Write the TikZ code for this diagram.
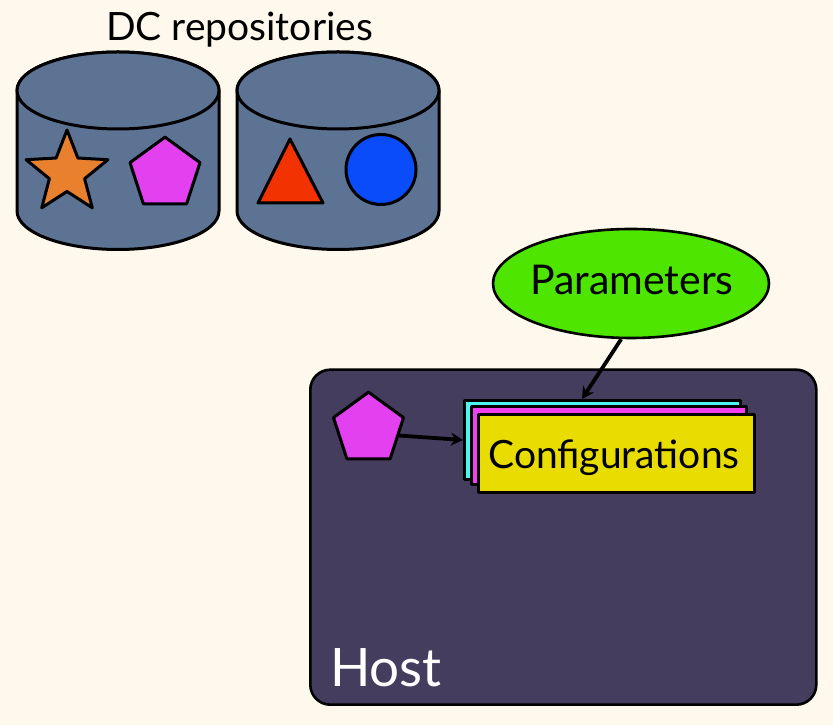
\documentclass[tikz,border=0pt]{standalone}
\usepackage{fontspec}
\setmainfont{Lato}
\usetikzlibrary{shapes.geometric,arrows.meta,calc}
\definecolor{bg}{HTML}{FEF9EC}
\definecolor{repoc}{HTML}{5D7393}
\definecolor{starc}{HTML}{E8802E}
\definecolor{pentc}{HTML}{E340F0}
\definecolor{tric}{HTML}{F23200}
\definecolor{circc}{HTML}{0A4BFA}
\definecolor{paramc}{HTML}{4EE600}
\definecolor{hostc}{HTML}{443D5E}
\definecolor{cyanc}{HTML}{4AF5F2}
\definecolor{magc}{HTML}{F040F0}
\definecolor{yelc}{HTML}{E8DC00}
\tikzset{
  repo/.style={fill=repoc, draw=black, line width=3pt},
  shapeline/.style={draw=black, line width=3pt},
  pent/.style={regular polygon, regular polygon sides=5, minimum size=73.6pt, inner sep=0pt, draw=black, line width=3pt, fill=pentc},
  cfg/.style={draw=black, line width=3pt, minimum height=78pt, minimum width=276pt, inner sep=0pt, anchor=south west},
  arr/.style={draw=black, line width=3.8pt, -{Stealth[length=12pt,width=13pt]}},
}
\begin{document}
\begin{tikzpicture}[x=1pt,y=1pt,line join=round]
\fill[bg] (0,0) rectangle (833,725);
\useasboundingbox (0,0) rectangle (833,725);

% title
\node[anchor=base, font=\fontsize{39}{44}\selectfont, inner sep=0pt] (title) at (239.5,684) {DC repositories};

% left cylinder
\draw[repo] (17,634.5) -- (17,514) arc[start angle=180,end angle=360,x radius=101,y radius=38.5] -- (219,634.5) arc[start angle=0,end angle=180,x radius=101,y radius=38.5] -- cycle;
\draw[repo] (118,634.5) ellipse[x radius=101, y radius=38.5];
% right cylinder
\draw[repo] (237,634.5) -- (237,514) arc[start angle=180,end angle=360,x radius=101,y radius=38.5] -- (439,634.5) arc[start angle=0,end angle=180,x radius=101,y radius=38.5] -- cycle;
\draw[repo] (338,634.5) ellipse[x radius=101, y radius=38.5];

% star
\draw[shapeline,fill=starc,shift={(67,552)}] (90:43) -- (126:18.5) -- (162:43) -- (198:18.5) -- (234:43) -- (270:18.5) -- (306:43) -- (342:18.5) -- (18:43) -- (54:18.5) -- cycle;
% pentagon in repo
\node[pent] (rpent) at (165,551) {};
% triangle
\draw[shapeline,fill=tric] (290,586) -- (258,522) -- (323,522) -- cycle;
% circle
\draw[shapeline,fill=circc] (381,555.5) circle[radius=35];

% host
\node[draw=black, line width=2.6pt, rounded corners=20pt, fill=hostc, minimum width=506pt, minimum height=335pt, inner sep=0pt, anchor=south west] (host) at (309,19) {};
\node[anchor=base west, inner sep=0pt, text=white, font=\fontsize{53}{60}\selectfont] (hostlabel) at (330,38) {Host};

% parameters
\node[ellipse, draw=black, line width=2.6pt, fill=paramc, minimum width=276pt, minimum height=109pt, inner sep=0pt] (params) at (631,441.5) {};
\node[anchor=base, inner sep=0pt, font=\fontsize{41}{46}\selectfont] (paramtext) at (632,430) {Parameters};

% configurations stack
\node[cfg, fill=cyanc, minimum height=79pt] (cfgA) at (463,244) {};
\node[cfg, fill=magc, minimum width=275pt] (cfgB) at (470,239) {};
\node[cfg, fill=yelc] (cfgC) at (477,231) {};
\node[anchor=base, inner sep=0pt, font=\fontsize{39}{44}\selectfont] (cfgtext) at (614,256) {Configurations};

% host pentagon
\node[pent] (hpent) at (368.5,296) {};

% arrows
\draw[arr] (params.260) -- ($(cfgA.north west)+(119,0)$);
\draw[arr] (hpent.-12) -- (cfgA.west);
\end{tikzpicture}
\end{document}
